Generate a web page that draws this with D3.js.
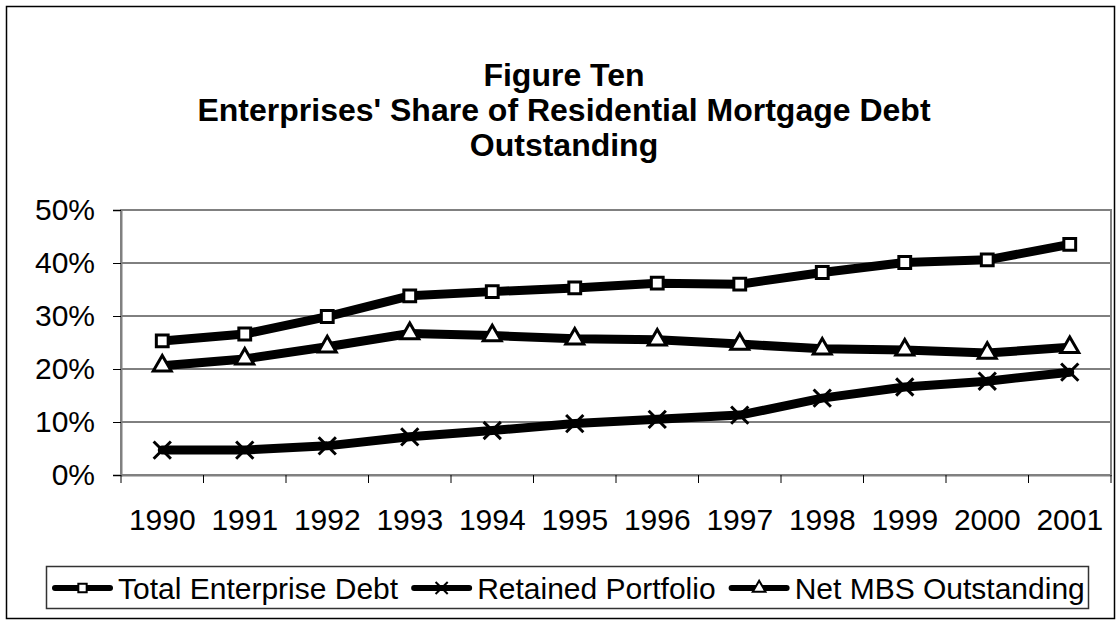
<!DOCTYPE html>
<html>
<head>
<meta charset="utf-8">
<script src="https://cdn.jsdelivr.net/npm/d3@7"></script>
<style>
body { margin: 0; background: #fff; }
text { font-family: "Liberation Sans", Arial, sans-serif; }
</style>
</head>
<body>
<script>
var width = 1120
var height = 624
var font = "Liberation Sans, Arial, sans-serif"

// values, in percent
var years = ["1990", "1991", "1992", "1993", "1994", "1995", "1996", "1997", "1998", "1999", "2000", "2001"]
var total_debt = [25.3, 26.6, 29.9, 33.8, 34.6, 35.3, 36.2, 36.0, 38.2, 40.1, 40.6, 43.5]
var retained = [4.7, 4.7, 5.5, 7.2, 8.4, 9.7, 10.5, 11.3, 14.5, 16.6, 17.7, 19.4]
var net_mbs = [20.6, 21.9, 24.2, 26.7, 26.3, 25.7, 25.5, 24.7, 23.8, 23.6, 23.0, 24.1]
var y_ticks = [0, 10, 20, 30, 40, 50]
var series_names = ["Total Enterprise Debt", "Retained Portfolio", "Net MBS Outstanding"]
var title_lines = ["Figure Ten", "Enterprises' Share of Residential Mortgage Debt", "Outstanding"]

var series = [
    {name: series_names[0], values: total_debt, symbol: d3.symbolSquare},
    {name: series_names[1], values: retained, symbol: d3.symbolTimes},
    {name: series_names[2], values: net_mbs, symbol: d3.symbolTriangle}
]

var plot = {left: 121, right: 1111, top: 210, bottom: 475}

var x = d3.scaleBand()
.domain(years)
.range([plot.left, plot.right])

var y = d3.scaleLinear()
.domain([0, 50])
.range([plot.bottom, plot.top])

var svg = d3.select("body").append("svg")
.attr("width", width)
.attr("height", height)

// outer chart frame
svg.append("rect")
.attr("x", 6.5).attr("y", 6.5)
.attr("width", 1108).attr("height", 612)
.attr("fill", "white")
.attr("stroke", "black")
.attr("stroke-width", 1.5)

svg.append("g").selectAll("text")
.data(title_lines)
.enter().append("text")
.attr("x", width / 2 + 4)
.attr("y", function(d, i) { return 86 + i * 35 })
.attr("text-anchor", "middle")
.style("font-family", font)
.style("font-weight", "bold")
.style("font-size", "32px")
.text(function(d) { return d })

// gridlines
svg.append("g").selectAll("line")
.data(y_ticks.slice(1, -1))
.enter().append("line")
.attr("x1", plot.left).attr("x2", plot.right)
.attr("y1", function(d) { return y(d) }).attr("y2", function(d) { return y(d) })
.attr("stroke", "#000")
.attr("stroke-width", 1)

// plot area border
svg.append("rect")
.attr("x", plot.left).attr("y", plot.top)
.attr("width", plot.right - plot.left).attr("height", plot.bottom - plot.top)
.attr("fill", "none")
.attr("stroke", "#808080")
.attr("stroke-width", 2)

var y_axis = svg.append("g")
.attr("transform", "translate(" + plot.left + ",0)")
.call(d3.axisLeft(y).tickValues(y_ticks).tickSize(8).tickPadding(18).tickFormat(function(d) { return d + "%" }))
y_axis.select(".domain").attr("stroke", "#808080").attr("stroke-width", 2)
y_axis.selectAll(".tick line").attr("stroke", "#000")
y_axis.selectAll("text").style("font-family", font).style("font-size", "30px").attr("fill", "#000")

var x_axis = svg.append("g")
.attr("transform", "translate(0," + plot.bottom + ")")
.call(d3.axisBottom(x).tickSize(0).tickPadding(34))
x_axis.select(".domain").attr("stroke", "#808080").attr("stroke-width", 2)
x_axis.selectAll("text").style("font-family", font).style("font-size", "30px").attr("fill", "#000")

// category boundary ticks
svg.append("g").selectAll("line")
.data(years.map(function(d) { return x(d) }).concat([x.range()[1]]))
.enter().append("line")
.attr("x1", function(d) { return d }).attr("x2", function(d) { return d })
.attr("y1", plot.bottom).attr("y2", plot.bottom + 8)
.attr("stroke", "#000")

var line = d3.line()
.x(function(d, i) { return x(years[i]) + x.bandwidth() / 2 })
.y(function(d) { return y(d) })

svg.append("g").selectAll("path")
.data(series)
.enter().append("path")
.attr("d", function(d) { return line(d.values) })
.attr("fill", "none")
.attr("stroke", "black")
.attr("stroke-width", 9)
.attr("stroke-linejoin", "round")
.attr("stroke-linecap", "round")

function draw_marker(g, s, size, sw) {
    var is_times = s.symbol == d3.symbolTimes
    g.attr("d", d3.symbol().type(s.symbol).size(is_times ? size * 1.4 : size))
    .attr("fill", is_times ? "none" : "white")
    .attr("stroke", "black")
    .attr("stroke-width", sw)
}

series.forEach(function(s) {
    svg.append("g").selectAll("path")
    .data(s.values)
    .enter().append("path")
    .attr("transform", function(d, i) { return "translate(" + (x(years[i]) + x.bandwidth() / 2) + "," + y(d) + ")" })
    .call(draw_marker, s, 140, 3)
})

// legend
var legend = svg.append("g")
legend.append("rect")
.attr("x", 46.5).attr("y", 566.5)
.attr("width", 1042).attr("height", 42)
.attr("fill", "white")
.attr("stroke", "#333")
.attr("stroke-width", 1.5)

var lx = 53
series.forEach(function(s) {
    legend.append("line")
    .attr("x1", lx + 2).attr("x2", lx + 57)
    .attr("y1", 588).attr("y2", 588)
    .attr("stroke", "black")
    .attr("stroke-width", 6)
    .attr("stroke-linecap", "round")
    legend.append("path")
    .attr("transform", "translate(" + (lx + 29.5) + ",588)")
    .call(draw_marker, s, 70, 2)
    var t = legend.append("text")
    .attr("x", lx + 65)
    .attr("y", 598.5)
    .style("font-family", font)
    .style("font-size", "30px")
    .text(s.name)
    lx = lx + 65 + t.node().getComputedTextLength() + 14
})
</script>
</body>
</html>
